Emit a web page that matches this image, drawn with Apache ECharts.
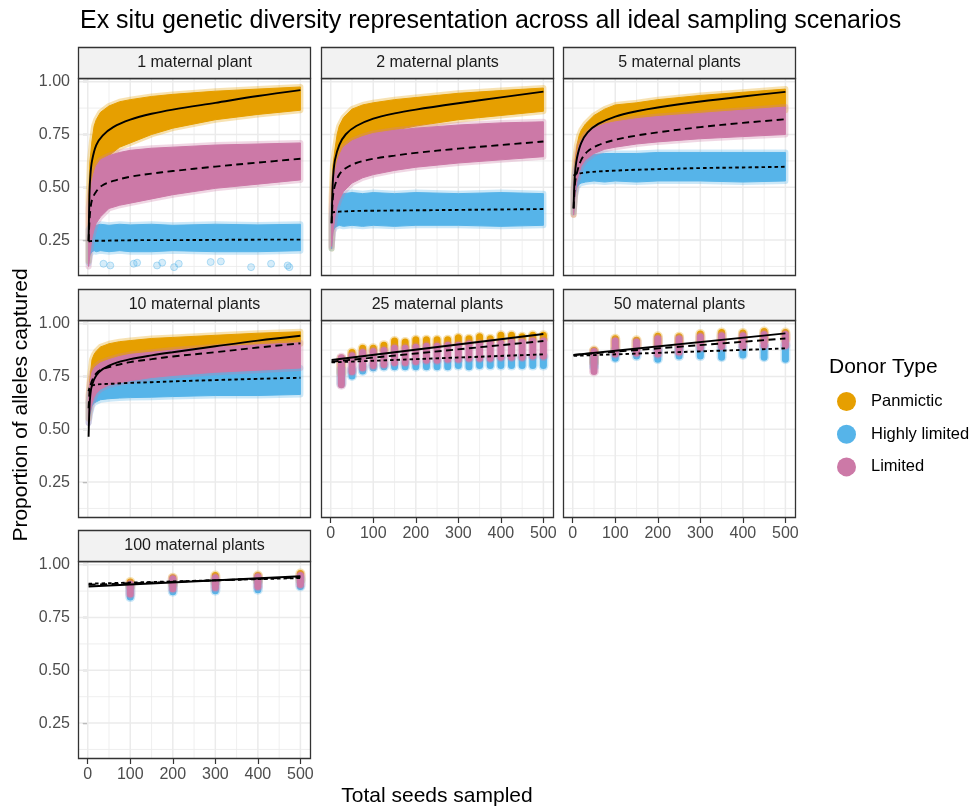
<!DOCTYPE html>
<html>
<head>
<meta charset="utf-8">
<script src="https://cdn.jsdelivr.net/npm/echarts@6/dist/echarts.min.js"></script>
<style>
html,body{margin:0;padding:0;background:#fff;}
#chart{width:969px;height:808px;}
</style>
</head>
<body>
<div id="chart"></div>
<script>
// ---------------- DATA ----------------
const donorNames = ['Panmictic', 'Highly limited', 'Limited'];
const panelTitles = ['1 maternal plant', '2 maternal plants', '5 maternal plants', '10 maternal plants',
                     '25 maternal plants', '50 maternal plants', '100 maternal plants'];
const xTicks = [0, 100, 200, 300, 400, 500];
const xMinor = [50, 150, 250, 350, 450];
const yTicks = [0.25, 0.5, 0.75, 1.0];
const yMinor = [0.125, 0.375, 0.625, 0.875];

// sample x positions for continuous clouds (1,2,5,10 maternal plants)
const bandX = [2, 5, 10, 15, 20, 30, 50, 75, 100, 150, 200, 300, 400, 500];
// x positions of fitted curves
const lineX = [2, 4, 6, 10, 20, 35, 60, 100, 150, 200, 300, 400, 500];
// discrete sampling positions
const x25 = [25, 50, 75, 100, 125, 150, 175, 200, 225, 250, 275, 300, 325, 350, 375, 400, 425, 450, 475, 500];
const x50 = [50, 100, 150, 200, 250, 300, 350, 400, 450, 500];
const x100 = [100, 200, 300, 400, 500];
const lineXShort = [2, 500];

// 1 maternal plant
const p1PanLo = [0.15, 0.30, 0.42, 0.50, 0.55, 0.60, 0.65, 0.69, 0.71, 0.75, 0.78, 0.82, 0.845, 0.865];
const p1PanHi = [0.45, 0.62, 0.72, 0.79, 0.82, 0.855, 0.885, 0.905, 0.915, 0.93, 0.94, 0.955, 0.965, 0.975];
const p1HlLo  = [0.14, 0.18, 0.195, 0.20, 0.195, 0.20, 0.195, 0.20, 0.195, 0.195, 0.20, 0.195, 0.195, 0.20];
const p1HlHi  = [0.30, 0.31, 0.32, 0.325, 0.32, 0.325, 0.32, 0.325, 0.322, 0.325, 0.32, 0.325, 0.322, 0.325];
const p1LimLo = [0.125, 0.18, 0.26, 0.30, 0.33, 0.36, 0.40, 0.415, 0.425, 0.445, 0.465, 0.495, 0.515, 0.535];
const p1LimHi = [0.40, 0.46, 0.53, 0.57, 0.60, 0.63, 0.65, 0.665, 0.675, 0.685, 0.69, 0.70, 0.705, 0.71];
const p1FitPan = [0.245, 0.46, 0.55, 0.625, 0.70, 0.745, 0.785, 0.82, 0.848, 0.868, 0.90, 0.932, 0.96];
const p1FitHl  = [0.243, 0.244, 0.245, 0.246, 0.247, 0.247, 0.248, 0.249, 0.25, 0.25, 0.251, 0.252, 0.252];
const p1FitLim = [0.245, 0.34, 0.39, 0.44, 0.48, 0.51, 0.53, 0.55, 0.565, 0.577, 0.598, 0.617, 0.635];
const p1OutX = [37, 53, 108, 116, 163, 175, 203, 214, 289, 313, 384, 431, 470, 474];
const p1OutY = [0.138, 0.13, 0.138, 0.143, 0.13, 0.143, 0.122, 0.138, 0.146, 0.149, 0.122, 0.138, 0.13, 0.122];

// 2 maternal plants
const p2PanLo = [0.21, 0.35, 0.45, 0.52, 0.57, 0.62, 0.68, 0.72, 0.74, 0.77, 0.79, 0.82, 0.84, 0.86];
const p2PanHi = [0.45, 0.60, 0.68, 0.75, 0.79, 0.83, 0.87, 0.89, 0.90, 0.915, 0.925, 0.945, 0.958, 0.97];
const p2HlLo  = [0.21, 0.29, 0.31, 0.315, 0.32, 0.315, 0.32, 0.315, 0.32, 0.315, 0.32, 0.32, 0.315, 0.32];
const p2HlHi  = [0.36, 0.42, 0.45, 0.46, 0.47, 0.47, 0.475, 0.47, 0.475, 0.47, 0.475, 0.47, 0.475, 0.47];
const p2LimLo = [0.22, 0.28, 0.36, 0.41, 0.44, 0.48, 0.52, 0.545, 0.56, 0.58, 0.595, 0.615, 0.63, 0.645];
const p2LimHi = [0.40, 0.50, 0.57, 0.62, 0.65, 0.69, 0.72, 0.74, 0.755, 0.77, 0.78, 0.795, 0.805, 0.81];
const p2FitPan = [0.33, 0.48, 0.56, 0.63, 0.70, 0.75, 0.79, 0.825, 0.85, 0.868, 0.898, 0.926, 0.953];
const p2FitHl  = [0.38, 0.381, 0.382, 0.383, 0.385, 0.386, 0.388, 0.389, 0.39, 0.391, 0.393, 0.395, 0.397];
const p2FitLim = [0.33, 0.42, 0.47, 0.51, 0.56, 0.59, 0.615, 0.635, 0.65, 0.663, 0.683, 0.70, 0.717];

// 5 maternal plants
const p3PanLo = [0.37, 0.47, 0.55, 0.60, 0.63, 0.67, 0.72, 0.75, 0.77, 0.795, 0.81, 0.835, 0.85, 0.865];
const p3PanHi = [0.50, 0.62, 0.70, 0.745, 0.77, 0.80, 0.84, 0.87, 0.89, 0.90, 0.915, 0.935, 0.95, 0.965];
const p3HlLo  = [0.38, 0.46, 0.50, 0.515, 0.52, 0.525, 0.53, 0.525, 0.53, 0.525, 0.53, 0.53, 0.525, 0.53];
const p3HlHi  = [0.47, 0.56, 0.61, 0.63, 0.64, 0.65, 0.655, 0.66, 0.66, 0.66, 0.665, 0.665, 0.665, 0.665];
const p3LimLo = [0.37, 0.45, 0.53, 0.57, 0.60, 0.63, 0.66, 0.68, 0.69, 0.705, 0.715, 0.73, 0.74, 0.75];
const p3LimHi = [0.48, 0.57, 0.66, 0.70, 0.72, 0.75, 0.78, 0.80, 0.81, 0.825, 0.835, 0.85, 0.865, 0.88];
const p3FitPan = [0.40, 0.52, 0.58, 0.64, 0.71, 0.76, 0.80, 0.835, 0.86, 0.878, 0.906, 0.93, 0.952];
const p3FitHl  = [0.555, 0.558, 0.56, 0.563, 0.567, 0.571, 0.575, 0.579, 0.583, 0.586, 0.591, 0.594, 0.597];
const p3FitLim = [0.40, 0.48, 0.53, 0.57, 0.63, 0.67, 0.70, 0.725, 0.745, 0.76, 0.785, 0.805, 0.822];

// 10 maternal plants
const p4PanLo = [0.55, 0.60, 0.68, 0.72, 0.74, 0.77, 0.80, 0.82, 0.83, 0.85, 0.86, 0.88, 0.895, 0.905];
const p4PanHi = [0.66, 0.74, 0.83, 0.855, 0.87, 0.89, 0.905, 0.915, 0.92, 0.93, 0.935, 0.945, 0.955, 0.962];
const p4HlLo  = [0.53, 0.57, 0.61, 0.625, 0.63, 0.64, 0.645, 0.648, 0.65, 0.652, 0.655, 0.66, 0.66, 0.665];
const p4HlHi  = [0.63, 0.68, 0.71, 0.72, 0.725, 0.735, 0.745, 0.752, 0.76, 0.765, 0.77, 0.78, 0.785, 0.79];
const p4LimLo = [0.53, 0.58, 0.62, 0.65, 0.67, 0.69, 0.71, 0.72, 0.73, 0.745, 0.755, 0.77, 0.78, 0.79];
const p4LimHi = [0.65, 0.72, 0.77, 0.79, 0.80, 0.815, 0.83, 0.845, 0.855, 0.865, 0.875, 0.89, 0.90, 0.91];
const p4FitPan = [0.465, 0.60, 0.66, 0.71, 0.755, 0.785, 0.81, 0.832, 0.85, 0.865, 0.893, 0.92, 0.943];
const p4FitHl  = [0.68, 0.695, 0.70, 0.707, 0.712, 0.714, 0.716, 0.72, 0.723, 0.727, 0.733, 0.739, 0.744];
const p4FitLim = [0.60, 0.67, 0.70, 0.73, 0.765, 0.785, 0.80, 0.818, 0.832, 0.845, 0.865, 0.887, 0.907];

// 25 maternal plants
const p5PanLo = [0.75, 0.82, 0.84, 0.85, 0.86, 0.865, 0.87, 0.875, 0.88, 0.885, 0.89, 0.89, 0.895, 0.90, 0.90, 0.905, 0.905, 0.91, 0.91, 0.915];
const p5PanHi = [0.85, 0.88, 0.90, 0.90, 0.915, 0.935, 0.93, 0.94, 0.94, 0.94, 0.94, 0.95, 0.945, 0.955, 0.945, 0.962, 0.962, 0.955, 0.962, 0.962];
const p5HlLo  = [0.70, 0.736, 0.76, 0.775, 0.78, 0.78, 0.78, 0.78, 0.78, 0.78, 0.78, 0.785, 0.78, 0.785, 0.785, 0.785, 0.785, 0.785, 0.785, 0.785];
const p5HlHi  = [0.80, 0.80, 0.815, 0.82, 0.825, 0.83, 0.83, 0.835, 0.835, 0.84, 0.84, 0.845, 0.845, 0.85, 0.85, 0.855, 0.855, 0.86, 0.86, 0.86];
const p5LimLo = [0.694, 0.757, 0.775, 0.785, 0.79, 0.80, 0.80, 0.805, 0.81, 0.81, 0.815, 0.815, 0.82, 0.82, 0.82, 0.825, 0.825, 0.825, 0.83, 0.83];
const p5LimHi = [0.855, 0.865, 0.88, 0.885, 0.89, 0.90, 0.90, 0.905, 0.91, 0.91, 0.915, 0.915, 0.92, 0.92, 0.925, 0.925, 0.93, 0.93, 0.935, 0.935];
const p5FitPan = [0.828, 0.951];
const p5FitHl  = [0.817, 0.855];
const p5FitLim = [0.82, 0.918];

// 50 maternal plants
const p6PanLo = [0.80, 0.86, 0.87, 0.875, 0.88, 0.89, 0.895, 0.90, 0.905, 0.91];
const p6PanHi = [0.89, 0.945, 0.938, 0.957, 0.955, 0.968, 0.975, 0.972, 0.98, 0.975];
const p6HlLo  = [0.78, 0.82, 0.83, 0.815, 0.83, 0.83, 0.825, 0.835, 0.825, 0.815];
const p6HlHi  = [0.86, 0.89, 0.89, 0.90, 0.90, 0.905, 0.905, 0.91, 0.91, 0.915];
const p6LimLo = [0.757, 0.84, 0.845, 0.84, 0.85, 0.87, 0.875, 0.875, 0.88, 0.88];
const p6LimHi = [0.885, 0.935, 0.93, 0.945, 0.945, 0.955, 0.96, 0.96, 0.965, 0.965];
const p6FitPan = [0.852, 0.954];
const p6FitHl  = [0.848, 0.883];
const p6FitLim = [0.852, 0.93];

// 100 maternal plants
const p7PanLo = [0.88, 0.89, 0.90, 0.905, 0.91];
const p7PanHi = [0.935, 0.955, 0.965, 0.965, 0.975];
const p7HlLo  = [0.83, 0.855, 0.86, 0.865, 0.88];
const p7HlHi  = [0.915, 0.935, 0.94, 0.945, 0.95];
const p7LimLo = [0.845, 0.87, 0.875, 0.88, 0.89];
const p7LimHi = [0.925, 0.95, 0.955, 0.96, 0.965];
const p7FitPan = [0.897, 0.945];
const p7FitHl  = [0.91, 0.937];
const p7FitLim = [0.905, 0.94];

// ---------------- STYLE / LAYOUT ----------------
const FONT = '"Liberation Sans", Arial, Helvetica, sans-serif';
const COLORS = ['#E69F00', '#56B4E9', '#CC79A7'];
const colLeft = [78, 321, 563];
const rowTop = [78, 320, 561];
const PW = 233, PH = 198, STRIP = 31;
const XMIN = -22.9, XMAX = 524.9, YMIN = 0.08, YMAX = 1.0175;

const zip2 = (xs, ys) => xs.map((x, i) => [x, ys[i]]);
const zip3 = (xs, lo, hi) => xs.map((x, i) => [x, lo[i], hi[i]]);

const panels = [
  {r:0, c:0, kind:'cont', xs:bandX, bands:[[p1PanLo,p1PanHi],[p1HlLo,p1HlHi],[p1LimLo,p1LimHi]], lx:lineX, fits:[p1FitPan,p1FitHl,p1FitLim], showY:true, showX:false},
  {r:0, c:1, kind:'cont', xs:bandX, bands:[[p2PanLo,p2PanHi],[p2HlLo,p2HlHi],[p2LimLo,p2LimHi]], lx:lineX, fits:[p2FitPan,p2FitHl,p2FitLim], showY:false, showX:false},
  {r:0, c:2, kind:'cont', xs:bandX, bands:[[p3PanLo,p3PanHi],[p3HlLo,p3HlHi],[p3LimLo,p3LimHi]], lx:lineX, fits:[p3FitPan,p3FitHl,p3FitLim], showY:false, showX:false},
  {r:1, c:0, kind:'cont', xs:bandX, bands:[[p4PanLo,p4PanHi],[p4HlLo,p4HlHi],[p4LimLo,p4LimHi]], lx:lineX, fits:[p4FitPan,p4FitHl,p4FitLim], showY:true, showX:false},
  {r:1, c:1, kind:'disc', xs:x25, bands:[[p5PanLo,p5PanHi],[p5HlLo,p5HlHi],[p5LimLo,p5LimHi]], lx:lineXShort, fits:[p5FitPan,p5FitHl,p5FitLim], showY:false, showX:true},
  {r:1, c:2, kind:'disc', xs:x50, bands:[[p6PanLo,p6PanHi],[p6HlLo,p6HlHi],[p6LimLo,p6LimHi]], lx:lineXShort, fits:[p6FitPan,p6FitHl,p6FitLim], showY:false, showX:true},
  {r:2, c:0, kind:'disc', xs:x100, bands:[[p7PanLo,p7PanHi],[p7HlLo,p7HlHi],[p7LimLo,p7LimHi]], lx:lineXShort, fits:[p7FitPan,p7FitHl,p7FitLim], showY:true, showX:true}
];
const lineTypes = ['solid', [3.5, 3], [7, 4.5]]; // Panmictic, Highly limited, Limited

const gridData = xTicks.map(v => [v, 0, 1]).concat(
  xMinor.map(v => [v, 0, 0]), yTicks.map(v => [v, 1, 1]), yMinor.map(v => [v, 1, 0]));

function gridRender(params, api) {
  const v = api.value(0), d = api.value(1), major = api.value(2);
  const cs = params.coordSys;
  const st = {stroke: '#EBEBEB', lineWidth: major ? 1.5 : 0.8};
  if (d === 0) {
    const px = api.coord([v, 0.5])[0];
    return {type:'line', shape:{x1:px, y1:cs.y, x2:px, y2:cs.y + cs.height}, style: st};
  }
  const py = api.coord([0, v])[1];
  return {type:'line', shape:{x1:cs.x, y1:py, x2:cs.x + cs.width, y2:py}, style: st};
}

function bandRender(xs, lo, hi, color) {
  return function (params, api) {
    if (params.dataIndex !== 0) return null;
    const top = [], bot = [];
    for (let i = 0; i < xs.length; i++) {
      top.push(api.coord([xs[i], hi[i]]));
      bot.unshift(api.coord([xs[i], lo[i]]));
    }
    const pts = top.concat(bot);
    return {type:'group', children:[
      {type:'polygon', shape:{points:pts}, style:{fill:'none', stroke:color, lineWidth:6, opacity:0.3, lineJoin:'round'}},
      {type:'polygon', shape:{points:pts}, style:{fill:color, stroke:color, lineWidth:1, lineJoin:'round'}}
    ]};
  };
}

function capsuleRender(color) {
  return function (params, api) {
    const x = api.value(0), lo = api.value(1), hi = api.value(2);
    const a = api.coord([x, hi]), b = api.coord([x, lo]);
    const r = 3.5;
    let y1 = a[1] + r, y2 = b[1] - r;
    if (y2 < y1) { const m = (y1 + y2) / 2; y1 = m; y2 = m; }
    const shape = {x1:a[0], y1:y1, x2:a[0], y2:y2};
    return {type:'group', children:[
      {type:'line', shape:shape, style:{stroke:color, lineWidth:10, lineCap:'round', opacity:0.3}},
      {type:'line', shape:shape, style:{stroke:color, lineWidth:7, lineCap:'round'}}
    ]};
  };
}

const grids = [], xAxes = [], yAxes = [], series = [], graphics = [];
panels.forEach((p, i) => {
  const L = colLeft[p.c], T = rowTop[p.r];
  grids.push({left:L, top:T, width:PW, height:PH, show:false, containLabel:false, outerBoundsMode:'none'});
  xAxes.push({type:'value', gridIndex:i, min:XMIN, max:XMAX,
    splitLine:{show:false}, axisLine:{show:false},
    axisTick:{show:p.showX, customValues:xTicks, length:5, lineStyle:{color:'#333333', width:1.2}},
    axisLabel:{show:p.showX, customValues:xTicks, margin:8, fontSize:16, color:'#4D4D4D', fontFamily:FONT}});
  yAxes.push({type:'value', gridIndex:i, min:YMIN, max:YMAX,
    splitLine:{show:false}, axisLine:{show:false},
    axisTick:{show:p.showY, customValues:yTicks, length:5, lineStyle:{color:'#333333', width:1.2}},
    axisLabel:{show:p.showY, customValues:yTicks, margin:8, fontSize:16, color:'#4D4D4D', fontFamily:FONT,
      formatter: v => Number(v).toFixed(2)}});

  series.push({type:'custom', name:'grid' + i, xAxisIndex:i, yAxisIndex:i, data:gridData,
    renderItem:gridRender, z:1, silent:true, clip:false});

  [0, 1, 2].forEach(k => {
    const lo = p.bands[k][0], hi = p.bands[k][1];
    series.push({type:'custom', name:donorNames[k], xAxisIndex:i, yAxisIndex:i,
      itemStyle:{color:COLORS[k]}, data:zip3(p.xs, lo, hi),
      encode:{x:0, y:[1, 2]},
      renderItem: p.kind === 'cont' ? bandRender(p.xs, lo, hi, COLORS[k]) : capsuleRender(COLORS[k]),
      z:2, clip:true, silent:true});
    if (i === 0 && k === 1) {
      series.push({type:'scatter', name:'Highly limited', xAxisIndex:0, yAxisIndex:0,
        data:zip2(p1OutX, p1OutY), symbolSize:7, z:2, silent:true,
        itemStyle:{color:'rgba(86,180,233,0.3)', borderColor:'rgba(86,180,233,0.5)', borderWidth:1}});
    }
  });
  [0, 1, 2].forEach(k => {
    series.push({type:'line', name:'fit' + i + '_' + k, xAxisIndex:i, yAxisIndex:i,
      data:zip2(p.lx, p.fits[k]), showSymbol:false, symbol:'none',
      smooth: p.kind === 'cont' ? 0.35 : false,
      lineStyle:{color:'#000000', width:1.9, type:lineTypes[k]}, z:3, silent:true, clip:true});
  });

  graphics.push({type:'rect', z:100, silent:true,
    shape:{x:L + 0.5, y:T + 0.5, width:PW - 1, height:PH - 1},
    style:{fill:'none', stroke:'#333333', lineWidth:1.3}});
  graphics.push({type:'rect', z:100, silent:true,
    shape:{x:L + 0.5, y:T - STRIP + 0.5, width:PW - 1, height:STRIP},
    style:{fill:'#F2F2F2', stroke:'#333333', lineWidth:1.3}});
  graphics.push({type:'text', z:101, silent:true, x:L + PW / 2, y:T - STRIP / 2 + 0.5,
    style:{text:panelTitles[i], font:'16px ' + FONT, fill:'#1A1A1A', align:'center', verticalAlign:'middle'}});
});

graphics.push({type:'text', z:101, x:80, y:21,
  style:{text:'Ex situ genetic diversity representation across all ideal sampling scenarios',
    font:'25px ' + FONT, fill:'#000000', align:'left', verticalAlign:'middle'}});
graphics.push({type:'text', z:101, x:437, y:796,
  style:{text:'Total seeds sampled', font:'21px ' + FONT, fill:'#000000', align:'center', verticalAlign:'middle'}});
graphics.push({type:'text', z:101, x:21, y:405, rotation:Math.PI / 2,
  style:{text:'Proportion of alleles captured', font:'21px ' + FONT, fill:'#000000', align:'center', verticalAlign:'middle'}});
graphics.push({type:'text', z:101, x:829, y:367,
  style:{text:'Donor Type', font:'21px ' + FONT, fill:'#000000', align:'left', verticalAlign:'middle'}});

const chart = echarts.init(document.getElementById('chart'), null, {renderer:'canvas'});
chart.setOption({
  animation:false,
  backgroundColor:'#ffffff',
  grid:grids, xAxis:xAxes, yAxis:yAxes, series:series, graphic:graphics,
  legend:{data:donorNames, orient:'vertical', left:837, top:392, itemWidth:19, itemHeight:19, itemGap:13.7,
    icon:'circle', selectedMode:false, padding:0,
    textStyle:{fontSize:16.5, color:'#000000', fontFamily:FONT, padding:[0, 0, 0, 10]}}
});
</script>
</body>
</html>
